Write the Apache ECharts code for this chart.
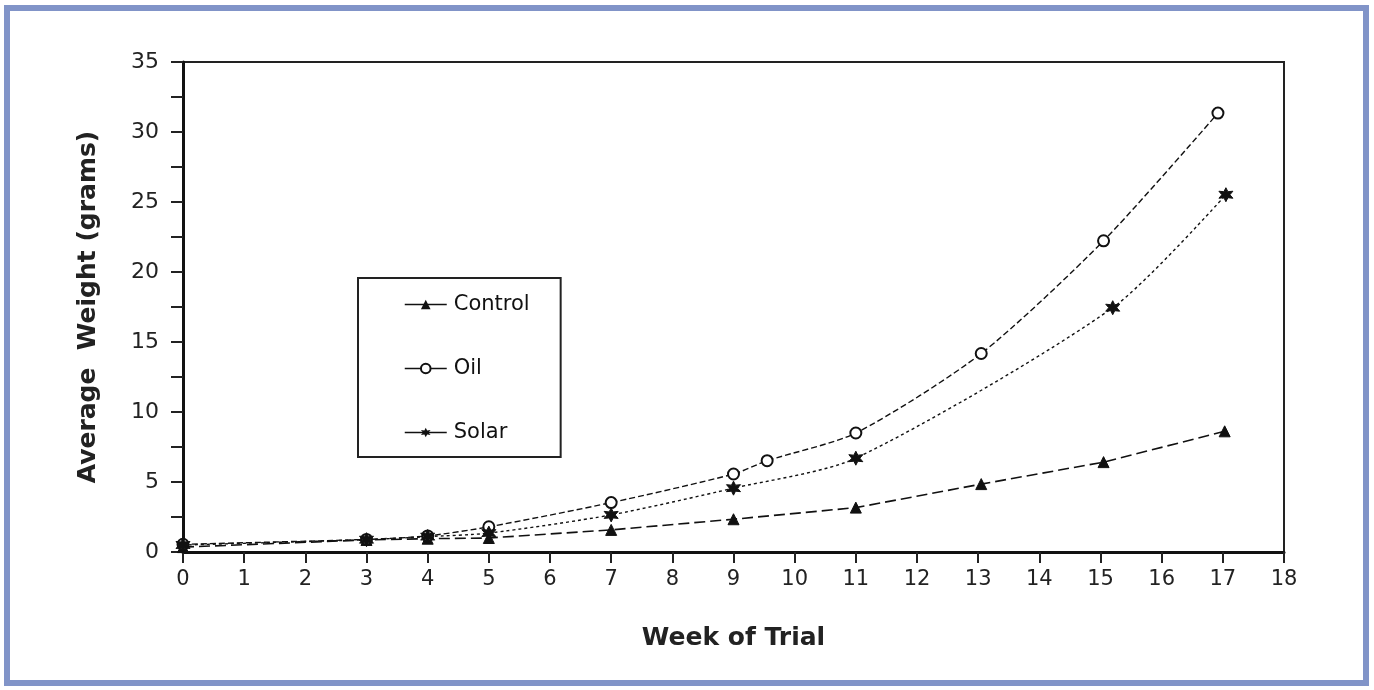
<!DOCTYPE html>
<html>
<head>
<meta charset="utf-8">
<script src="https://cdn.jsdelivr.net/npm/echarts@6/dist/echarts.min.js"></script>
<style>
html,body{margin:0;padding:0;background:#fff;}
#chart{width:1374px;height:690px;}
</style>
</head>
<body>
<div id="chart"></div>
<script>
const seriesNames = ['Control', 'Oil', 'Solar'];
const controlWeeks = [0, 3, 4, 5, 7, 9, 11, 13.05, 15.05, 17.03];
const controlValues = [0.35, 0.86, 0.95, 1.0, 1.58, 2.34, 3.17, 4.85, 6.42, 8.62];
const oilWeeks = [0, 3, 4, 5, 7, 9, 9.55, 11, 13.05, 15.05, 16.92];
const oilValues = [0.55, 0.9, 1.15, 1.8, 3.53, 5.57, 6.52, 8.5, 14.18, 22.23, 31.35];
const solarWeeks = [0, 3, 4, 5, 7, 9, 11, 15.2, 17.05];
const solarValues = [0.5, 0.88, 1.1, 1.35, 2.65, 4.56, 6.7, 17.45, 25.52];
const xTicks = [0,1,2,3,4,5,6,7,8,9,10,11,12,13,14,15,16,17,18];
const yTicks = [0,5,10,15,20,25,30,35];

const pair = (xs, ys) => xs.map((x, i) => [x, ys[i]]);
const FONT = '"DejaVu Sans", sans-serif';
const starPath = 'path://M0,-10 L2.5,-4.3 L8.7,-5 L5,0 L8.7,5 L2.5,4.3 L0,10 L-2.5,4.3 L-8.7,5 L-5,0 L-8.7,-5 L-2.5,-4.3 Z';

const chart = echarts.init(document.getElementById('chart'));
chart.setOption({
  animation: false,
  backgroundColor: '#fff',
  graphic: [{
    type: 'rect', z: 100,
    shape: { x: 7, y: 8, width: 1359, height: 675 },
    style: { fill: 'none', stroke: '#8194c8', lineWidth: 6 }
  }],
  grid: { left: 183, right: 90, top: 62, bottom: 138, show: true, borderColor: '#222', borderWidth: 2, backgroundColor: 'transparent' },
  legend: {
    orient: 'vertical',
    left: 358, top: 278,
    padding: [16, 31, 14, 46],
    borderColor: '#222', borderWidth: 2,
    itemWidth: 42, itemHeight: 12, itemGap: 43,
    data: seriesNames,
    lineStyle: { type: 'solid', width: 1.5, color: '#111' },
    textStyle: { fontFamily: FONT, fontSize: 21, color: '#111', padding: [0, 0, 0, 2] }
  },
  xAxis: {
    type: 'value', min: 0, max: 18, interval: 1,
    name: 'Week of Trial', nameLocation: 'middle', nameGap: 74,
    nameTextStyle: { fontFamily: FONT, fontSize: 25, fontWeight: 'bold', color: '#222' },
    axisLine: { lineStyle: { color: '#111', width: 3 } },
    axisTick: { inside: false, length: 11, lineStyle: { color: '#222', width: 2 } },
    axisLabel: { fontFamily: FONT, fontSize: 21, color: '#222', margin: 17,
      formatter: v => xTicks.includes(v) ? String(v) : '' },
    splitLine: { show: false }
  },
  yAxis: {
    type: 'value', min: 0, max: 35, interval: 5,
    name: 'Average  Weight (grams)', nameLocation: 'middle', nameGap: 82, nameRotate: 90,
    nameTextStyle: { fontFamily: FONT, fontSize: 25, fontWeight: 'bold', color: '#222' },
    axisLine: { show: true, lineStyle: { color: '#111', width: 3 } },
    axisTick: { show: true, inside: false, length: 12, lineStyle: { color: '#222', width: 2 } },
    minorTick: { show: true, splitNumber: 2, length: 12, lineStyle: { color: '#222', width: 2 } },
    axisLabel: { fontFamily: FONT, fontSize: 22, color: '#222', margin: 24,
      formatter: v => yTicks.includes(v) ? String(v) : '' },
    splitLine: { show: false }
  },
  series: [
    {
      name: 'Control', type: 'line', data: pair(controlWeeks, controlValues),
      symbol: 'triangle', symbolSize: 11, smooth: false,
      itemStyle: { color: '#111', borderColor: '#111' },
      lineStyle: { color: '#111', width: 1.6, type: [11, 5] }
    },
    {
      name: 'Oil', type: 'line', data: pair(oilWeeks, oilValues),
      symbol: 'emptyCircle', symbolSize: 11, smooth: 0.25,
      itemStyle: { color: '#111', borderColor: '#111', borderWidth: 1.6 },
      lineStyle: { color: '#111', width: 1.4, type: [6, 3] }
    },
    {
      name: 'Solar', type: 'line', data: pair(solarWeeks, solarValues),
      symbol: starPath, symbolSize: 14, smooth: 0.25,
      itemStyle: { color: '#111', borderColor: '#111' },
      lineStyle: { color: '#111', width: 1.4, type: [3, 3] }
    }
  ]
});
</script>
</body>
</html>
